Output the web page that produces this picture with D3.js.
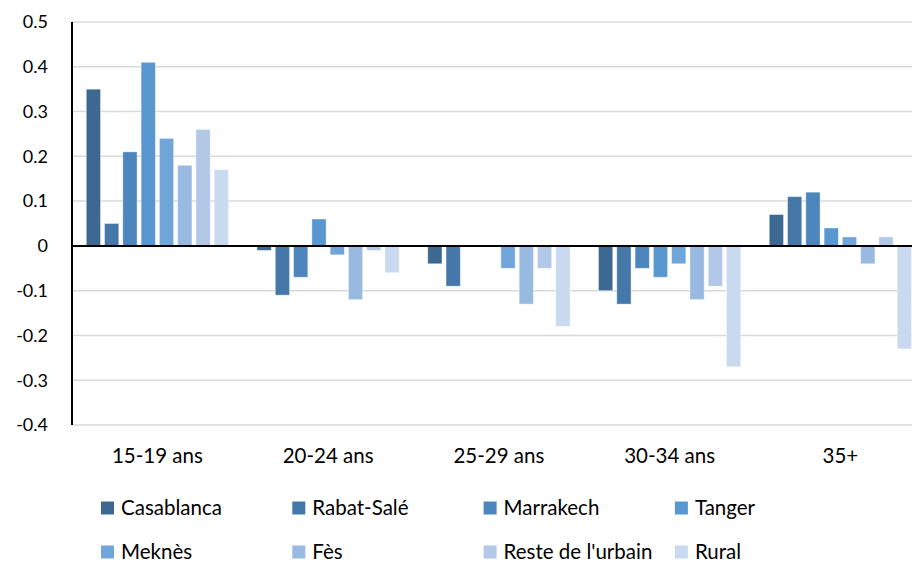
<!DOCTYPE html>
<html lang="fr">
<head>
<meta charset="utf-8">
<script src="https://d3js.org/d3.v7.min.js"></script>
<style>
  body { margin: 0; background: #fff; font-family: 'Lato', 'Noto Sans', sans-serif; }
  text { fill: #000; }
</style>
</head>
<body>
<div id="chart"></div>
<script>
// categories (age groups) and series (cities)
var ageGroups = ["15-19 ans", "20-24 ans", "25-29 ans", "30-34 ans", "35+"];
var cities = ["Casablanca", "Rabat-Salé", "Marrakech", "Tanger", "Meknès", "Fès", "Reste de l'urbain", "Rural"];

var casablanca = [0.35, -0.01, -0.04, -0.10, 0.07];
var rabatSale  = [0.05, -0.11, -0.09, -0.13, 0.11];
var marrakech  = [0.21, -0.07, 0.00, -0.05, 0.12];
var tanger     = [0.41, 0.06, 0.00, -0.07, 0.04];
var meknes     = [0.24, -0.02, -0.05, -0.04, 0.02];
var fes        = [0.18, -0.12, -0.13, -0.12, -0.04];
var resteUrb   = [0.26, -0.01, -0.05, -0.09, 0.02];
var rural      = [0.17, -0.06, -0.18, -0.27, -0.23];

var yTicks = [0.5, 0.4, 0.3, 0.2, 0.1, 0, -0.1, -0.2, -0.3, -0.4];

var colors = ["#3d6891", "#4577a8", "#4c86bd", "#5897d0", "#70a5d9", "#98bae1", "#b2c8e6", "#c9d9ef"];

var series = [casablanca, rabatSale, marrakech, tanger, meknes, fes, resteUrb, rural];

var width = 912, height = 562;
var margin = {left: 72, top: 22, bottom: 137};

var svg = d3.select("#chart").append("svg")
  .attr("width", width)
  .attr("height", height);

// the plot runs a bit past the right edge, as in the original
var x0 = d3.scaleBand()
  .domain(ageGroups)
  .range([margin.left, margin.left + 5 * 170.75]);

var x1 = d3.scaleBand()
  .domain(d3.range(cities.length))
  .range([0, x0.bandwidth()])
  .paddingInner(0.22)
  .paddingOuter(0.78);

var y = d3.scaleLinear()
  .domain([-0.4, 0.5])
  .range([height - margin.bottom, margin.top]);

// gridlines
svg.append("g").selectAll("line")
  .data(yTicks.filter(function(d) { return d !== 0; }))
  .enter().append("line")
  .attr("x1", margin.left).attr("x2", width)
  .attr("y1", function(d) { return y(d); })
  .attr("y2", function(d) { return y(d); })
  .style("stroke", "#d9d9d9")
  .style("stroke-width", 1.5);

// y tick labels
svg.append("g").selectAll("text")
  .data(yTicks)
  .enter().append("text")
  .attr("x", 48)
  .attr("y", function(d) { return y(d); })
  .attr("dy", "0.35em")
  .attr("text-anchor", "end")
  .style("font-size", "18px")
  .text(function(d) { return d === 0 ? "0" : d.toFixed(1); });

// bars
var groups = svg.append("g").selectAll("g")
  .data(ageGroups)
  .enter().append("g")
  .attr("transform", function(d) { return "translate(" + x0(d) + ",0)"; });

groups.selectAll("rect")
  .data(function(d, gi) {
    return series.map(function(s, si) { return {i: si, v: s[gi]}; });
  })
  .enter().append("rect")
  .filter(function(d) { return d.v !== 0; })
  .attr("x", function(d) { return x1(d.i); })
  .attr("width", x1.bandwidth())
  .attr("y", function(d) { return y(Math.max(0, d.v)); })
  .attr("height", function(d) { return Math.abs(y(d.v) - y(0)); })
  .style("fill", function(d) { return colors[d.i]; })
  .style("stroke", "#ffffff")
  .style("stroke-opacity", 0.5)
  .style("stroke-width", 0.8);

// zero line and y axis line
svg.append("line")
  .attr("x1", margin.left).attr("x2", width)
  .attr("y1", y(0)).attr("y2", y(0))
  .style("stroke", "#000").style("stroke-width", 2);

svg.append("line")
  .attr("x1", margin.left).attr("x2", margin.left)
  .attr("y1", y(0.5)).attr("y2", y(-0.4))
  .style("stroke", "#000").style("stroke-width", 2);

// category labels
svg.append("g").selectAll("text")
  .data(ageGroups)
  .enter().append("text")
  .attr("x", function(d) { return x0(d) + x0.bandwidth() / 2; })
  .attr("y", 456)
  .attr("dy", "0.35em")
  .attr("text-anchor", "middle")
  .style("font-size", "20.5px")
  .text(function(d) { return d; });

// legend
var legend = svg.append("g").selectAll("g")
  .data(cities)
  .enter().append("g")
  .attr("transform", function(d, i) {
    return "translate(" + (101 + (i % 4) * 191.3) + "," + (i < 4 ? 508 : 552) + ")";
  });

legend.append("rect")
  .attr("x", 0).attr("y", -6.5)
  .attr("width", 13).attr("height", 13)
  .style("fill", function(d, i) { return colors[i]; });

legend.append("text")
  .attr("x", 20)
  .attr("dy", "0.35em")
  .style("font-size", "20.5px")
  .text(function(d) { return d; });
</script>
</body>
</html>
